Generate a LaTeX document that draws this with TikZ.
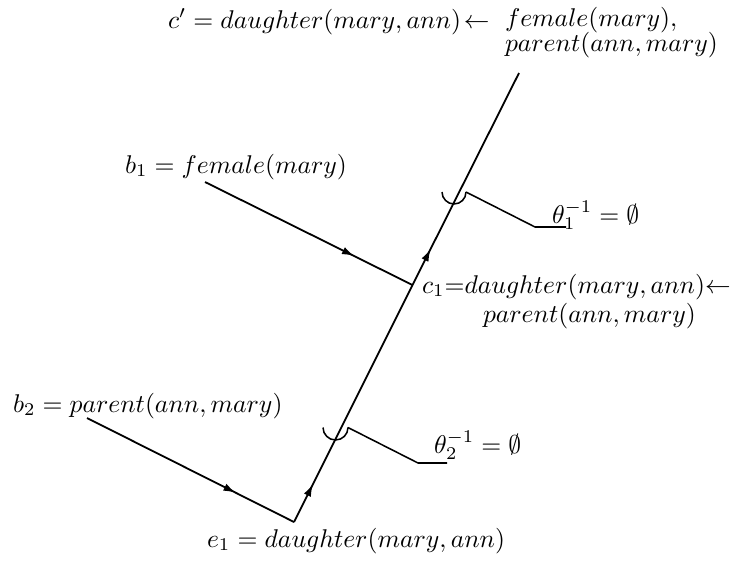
\documentclass[tikz,border=0pt]{standalone}
\usetikzlibrary{arrows.meta,decorations.markings}
\tikzset{
  txt/.style={anchor=base west,inner sep=0pt,outer sep=0pt},
  edge/.style={line width=0.7pt},
  arrowat/.style={postaction={decorate},decoration={markings,mark=at position #1 with {\arrow{Latex[length=4.8pt,width=3pt]}}}},
  leader/.style={line width=0.6pt}
}
\begin{document}
\begin{tikzpicture}[x=0.39pt,y=-0.39pt]
\useasboundingbox (0,0) rectangle (732,564);
% points
\coordinate (top) at (519,73);
\coordinate (c1pt) at (412.5,285);
\coordinate (e1pt) at (294,522);
\coordinate (b1end) at (205,182);
\coordinate (b2end) at (87,418);
% texts
\node[txt] (cp) at (168,28) {$c' = daughter(mary,ann)\mskip2mu{\leftarrow}$};
\node[txt] (cpa) at (505,26) {$female(mary),$};
\node[txt] (cpb) at (505,51) {$parent(ann,mary)$};
\node[txt] (b1) at (125,173) {$b_1 = female(mary)$};
\node[txt] (c1a) at (422,293) {$c_1{=}daughter(mary,ann){\leftarrow}$};
\node[txt] (c1b) at (483,322) {$parent(ann,mary)$};
\node[txt] (b2) at (13,412) {$b_2 = parent(ann,mary)$};
\node[txt] (e1) at (207,547) {$e_1 = daughter(mary,ann)$};
\node[txt] (t1) at (552,223) {$\theta_1^{-1} = \emptyset$};
\node[txt] (t2) at (434,453) {$\theta_2^{-1} = \emptyset$};
% connectors
\draw[edge,arrowat=0.72] (b1end) -- (c1pt);
\draw[edge,arrowat=0.72] (b2end) -- (e1pt);
\draw[edge,arrowat=0.16] (e1pt) -- (c1pt);
\draw[edge,arrowat=0.17] (c1pt) -- (top);
% unifier marks
\coordinate (u1) at (442,192);
\coordinate (u1r) at (466,192);
\coordinate (l1a) at (535,227);
\coordinate (l1b) at (566,227);
\draw[leader] (u1) arc[start angle=180,end angle=0,radius=12];
\draw[leader] (u1r) -- (l1a) -- (l1b);
\coordinate (u2) at (323,427.5);
\coordinate (u2r) at (348,427.5);
\coordinate (l2a) at (418,463);
\coordinate (l2b) at (447,463);
\draw[leader] (u2) arc[start angle=180,end angle=0,radius=12.5];
\draw[leader] (u2r) -- (l2a) -- (l2b);
\end{tikzpicture}
\end{document}
